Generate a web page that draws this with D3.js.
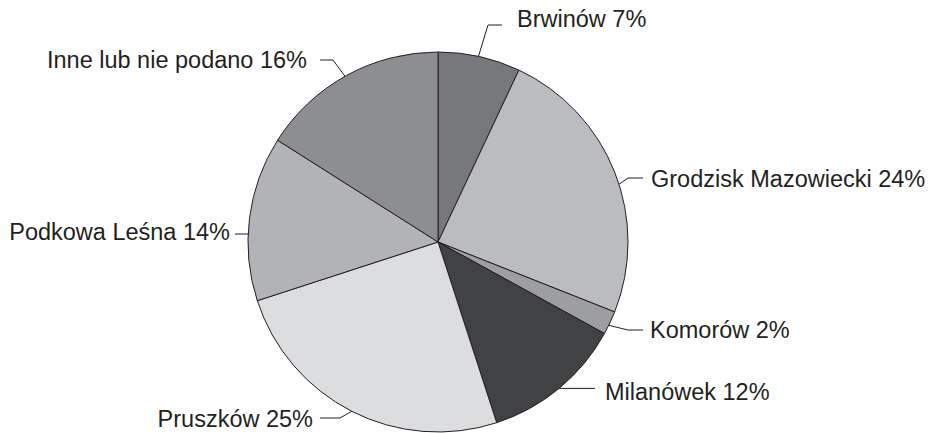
<!DOCTYPE html>
<html>
<head>
<meta charset="utf-8">
<script src="https://cdn.jsdelivr.net/npm/d3@7"></script>
<style>
  body { margin: 0; background: #fff; }
  text { font-family: "Liberation Sans", Arial, sans-serif; }
</style>
</head>
<body>
<div id="chart"></div>
<script>
// data
const names = ["Brwinów", "Grodzisk Mazowiecki", "Komorów", "Milanówek", "Pruszków", "Podkowa Leśna", "Inne lub nie podano"];
const shares = [7, 24, 2, 12, 25, 14, 16];
const fills = ["#77787b", "#bbbcbf", "#9d9ea1", "#414244", "#dcdddf", "#b2b3b6", "#8d8e91"];

// label placement: attach angle on rim (deg), elbow, end of leader, text pos
const labelLayout = [
  {ang: 12.3,  elbow: [488, 25],  end: 502, tx: 517, ty: 27,  anchor: "start"},
  {ang: 72.3,  elbow: [628, 178], end: 643, tx: 651, ty: 187, anchor: "start"},
  {ang: 116,   elbow: [628, 330], end: 643, tx: 650, ty: 338, anchor: "start"},
  {ang: 140.4, elbow: null,       end: 595, tx: 605, ty: 400, anchor: "start"},
  {ang: 207,   elbow: [340, 418], end: 320, tx: 313, ty: 427, anchor: "end"},
  {ang: 272.4, elbow: null,       end: 235, tx: 230, ty: 240, anchor: "end"},
  {ang: 330.7, elbow: [333, 60],  end: 320, tx: 307, ty: 68,  anchor: "end"}
];

const width = 932, height = 433;
const cx = 438, cy = 242, radius = 190;

const svg = d3.select("#chart").append("svg")
    .attr("width", width)
    .attr("height", height);

const pie = d3.pie().sort(null).value(d => d)(shares);
const arc = d3.arc().innerRadius(0).outerRadius(radius);

const g = svg.append("g").attr("transform", `translate(${cx},${cy})`);

g.selectAll("path")
    .data(pie)
    .join("path")
    .attr("d", arc)
    .attr("fill", (d, i) => fills[i])
    .attr("stroke", "#231f20")
    .attr("stroke-width", 1);

// leaders + labels
labelLayout.forEach(function(l, i) {
    const p = d3.pointRadial(l.ang * Math.PI / 180, radius);
    const a = [cx + p[0], cy + p[1]];
    const pts = [a];
    let y = a[1];
    if (l.elbow) { pts.push(l.elbow); y = l.elbow[1]; }
    pts.push([l.end, y]);

    svg.append("path")
        .attr("d", d3.line()(pts))
        .attr("fill", "none")
        .attr("stroke", "#231f20")
        .attr("stroke-width", 1);

    svg.append("text")
        .attr("x", l.tx)
        .attr("y", l.ty)
        .attr("text-anchor", l.anchor)
        .attr("font-size", 23.5)
        .attr("fill", "#231f20")
        .text(`${names[i]} ${shares[i]}%`);
});
</script>
</body>
</html>
